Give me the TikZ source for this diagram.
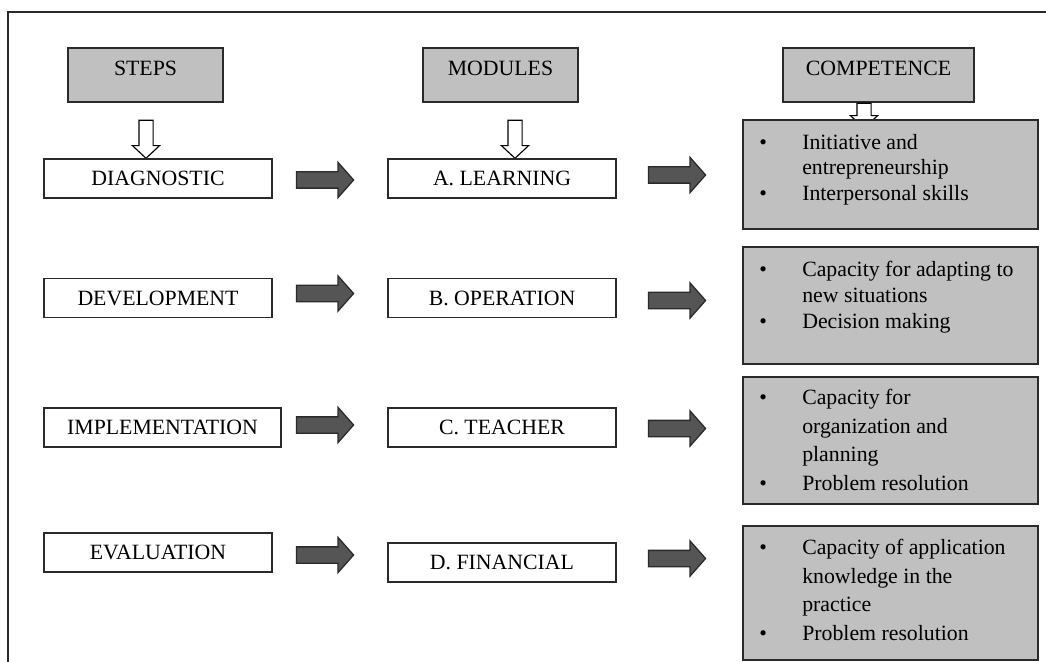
\documentclass[tikz,border=0pt]{standalone}
\usepackage{fontspec}
\setmainfont{Liberation Serif}
\usetikzlibrary{shapes.arrows,calc,positioning}
\definecolor{boxgray}{HTML}{C0C0C0}
\definecolor{arrgray}{HTML}{555555}
\definecolor{edgegray}{HTML}{2A2A2A}
\newcommand{\bul}{\makebox[10.75mm][l]{\textbullet}}
\newcommand{\ind}{\hspace*{10.75mm}}

\begin{document}
\begin{tikzpicture}[x=0.25mm,y=-0.25mm,
    every node/.style={font=\fontsize{15.5}{18}\selectfont},
    hdr/.style={draw=edgegray,line width=1.1pt,fill=boxgray,anchor=north,minimum width=38.75mm,inner sep=0pt,text height=7mm,text depth=6.5mm},
    stepbox/.style={draw=edgegray,line width=1pt,fill=white,minimum width=57mm,minimum height=9.75mm,inner sep=0pt},
    compbox/.style={draw=edgegray,line width=1.1pt,fill=boxgray,anchor=north west,minimum width=73.75mm,inner sep=0pt},
    comptext/.style={anchor=north west,align=left,inner sep=0pt},
    downarr/.style={single arrow,draw=black,fill=white,line width=0.8pt,rotate=-90,inner sep=0pt,text height=3.25mm,text depth=0pt,single arrow head extend=1.625mm,single arrow tip angle=94},
    fatarr/.style={single arrow,draw=edgegray,fill=arrgray,line width=0.9pt,inner sep=0pt,text height=3.75mm,text depth=0pt,minimum height=14.25mm,single arrow head extend=2.375mm,single arrow tip angle=97}]
    \useasboundingbox (0,0) rectangle (1046,662);
    \draw[edgegray,line width=1pt] (8,662) -- (8,12) -- (1046,12);

    % headings
    \node[hdr] (steps) at (145.5,47) {STEPS};
    \node[hdr] (modules) at (500.5,47) {MODULES};
    \node[hdr,minimum width=47.75mm] (comp) at (878.5,47) {COMPETENCE};
    \node[downarr,minimum height=9.5mm] (d1) at (146,136) {};
    \node[downarr,minimum height=9.5mm] (d2) at (515,136) {};
    \node[downarr,minimum height=6.25mm] (d3) at (864,112.5) {};

    % steps and modules
    \node[stepbox] (diag) at (158,178.5) {DIAGNOSTIC};
    \node[stepbox] (devel) at (158,298) {DEVELOPMENT};
    \node[stepbox,minimum width=59.25mm] (impl) at (162.5,427.5) {IMPLEMENTATION};
    \node[stepbox] (eval) at (158,552.5) {EVALUATION};
    \node[stepbox] (learn) at (502,178.5) {A. LEARNING};
    \node[stepbox] (oper) at (502,298) {B. OPERATION};
    \node[stepbox] (teach) at (502,427.5) {C. TEACHER};
    \node[stepbox] (fin) at (502,562.5) {D. FINANCIAL};

    \node[fatarr] (a1) at (321.5,180) {};
    \node[fatarr] (a2) at (321.5,293.5) {};
    \node[fatarr] (a3) at (321.5,425) {};
    \node[fatarr] (a4) at (321.5,555) {};
    \node[fatarr] (b1) at (673.5,175) {};
    \node[fatarr] (b2) at (673.5,300.5) {};
    \node[fatarr] (b3) at (673.5,428.5) {};
    \node[fatarr] (b4) at (673.5,558.5) {};

    % competences
    \node[compbox,minimum height=27.25mm] (c1) at (742,119) {};
    \node[compbox,minimum height=29.25mm] (c2) at (742,246) {};
    \node[compbox,minimum height=31.75mm] (c3) at (742,376) {};
    \node[compbox,minimum height=33.5mm] (c4) at (742,525) {};
    \node[comptext,font=\fontsize{15.5}{18.1}\selectfont] (c1t) at ($(c1.north west)+(17,15)$)
        {\bul Initiative and\\ \ind entrepreneurship\\ \bul Interpersonal skills};
    \node[comptext,font=\fontsize{15.5}{18.5}\selectfont] (c2t) at ($(c2.north west)+(17,15)$)
        {\bul Capacity for adapting to\\ \ind new situations\\ \bul Decision making};
    \node[comptext,font=\fontsize{15.5}{20.4}\selectfont] (c3t) at ($(c3.north west)+(17,13)$)
        {\bul Capacity for\\ \ind organization and\\ \ind planning\\ \bul Problem resolution};
    \node[comptext,font=\fontsize{15.5}{20.4}\selectfont] (c4t) at ($(c4.north west)+(17,14)$)
        {\bul Capacity of application\\ \ind knowledge in the\\ \ind practice\\ \bul Problem resolution};
\end{tikzpicture}
\end{document}
